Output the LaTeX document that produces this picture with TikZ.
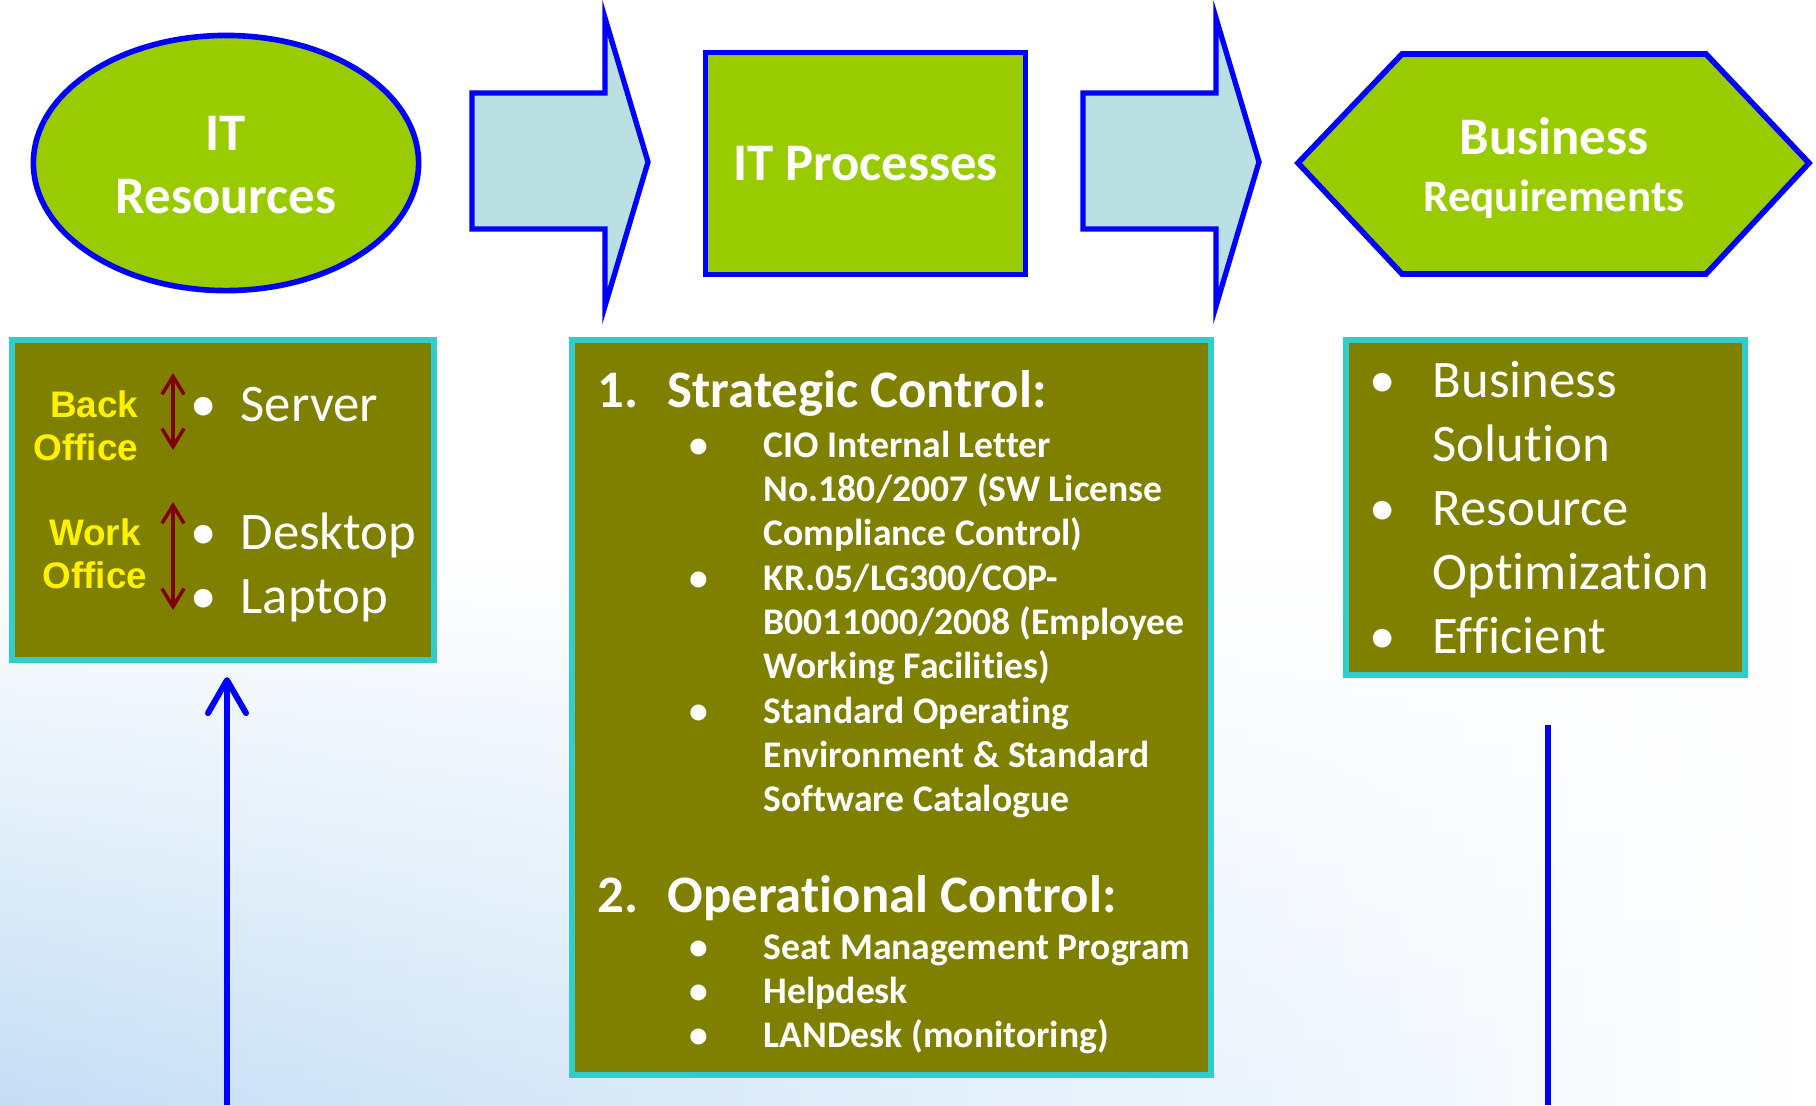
\documentclass[tikz,border=0pt]{standalone}
\usepackage{fontspec}
\setmainfont{Carlito}[Ligatures={NoCommon,NoContextual}, Contextuals=NoAlternate]
\newfontfamily\arialfont{Liberation Sans}
\usetikzlibrary{arrows.meta, positioning, shapes.geometric, fadings}
\definecolor{itgreen}{RGB}{153,204,0}
\definecolor{itolive}{RGB}{128,128,0}
\definecolor{itcyan}{RGB}{51,204,204}
\definecolor{itblue}{RGB}{0,0,255}
\definecolor{arrowfill}{RGB}{187,224,227}
\definecolor{darkred}{RGB}{128,0,0}
\definecolor{bgblue}{RGB}{196,222,245}
\newcommand{\hangbul}[1]{\llap{\makebox[#1]{\textbullet}}}
\newcommand{\listlines}[2][l]{\begin{tabular}[t]{@{}#1@{}}#2\end{tabular}}
\tikzfading[name=fadeup, top color=transparent!100, bottom color=transparent!0]

\begin{document}
\begin{tikzpicture}[x=0.01cm, y=-0.01cm,
    head_shape/.style={draw=itblue, line width=1.6pt, fill=itgreen, inner sep=0pt},
    head_text/.style={text=white, inner sep=0pt, anchor=base},
    block_arrow/.style={draw=itblue, line width=1.5pt, fill=arrowfill},
    list_box/.style={draw=itcyan, line width=1.7pt, fill=itolive, inner sep=0pt},
    list_big/.style={text=white, font=\fontsize{15}{18.2}\selectfont, anchor=base west, inner sep=0pt},
    list_head/.style={text=white, font=\fontsize{15}{18}\selectfont\bfseries, anchor=base west, inner sep=0pt},
    list_small/.style={text=white, font=\fontsize{10.7}{12.63}\selectfont\bfseries, anchor=base west, inner sep=0pt},
    office/.style={text=yellow, font=\arialfont\fontsize{10.5}{12.5}\selectfont\bfseries, inner sep=0pt},
    office_arrow/.style={{Straight Barb[length=0.18cm,width=0.22cm]}-{Straight Barb[length=0.18cm,width=0.22cm]}, darkred, line width=1pt},
    flow_line/.style={itblue, line width=1.7pt}
]
    \useasboundingbox (0,0) rectangle (1816,1105);

    % faded background
    \fill[white] (0,0) rectangle (1816,1105);
    \shade[left color=bgblue, right color=white, path fading=fadeup] (0,560) rectangle (1816,1105);

    % Top row: resources -> processes -> requirements
    \node[head_shape, ellipse, minimum width=3.85cm, minimum height=2.55cm] (itres) at (226,163) {};
    \node[head_text, font=\fontsize{15}{18}\selectfont\bfseries] (itres_t) at (226,150) {\listlines[c]{IT\\Resources}};
    \node[head_shape, minimum width=3.2cm, minimum height=2.22cm, text=white, font=\fontsize{15}{18}\selectfont\bfseries] (itproc) at (865.5,163.5) {IT Processes};
    \draw[head_shape] (1298,163) -- (1402,54) -- (1706,54) -- (1809,163) -- (1706,274) -- (1402,274) -- cycle;
    \node[head_text, font=\fontsize{15}{18}\selectfont\bfseries] (busreq) at (1554,154) {Business};
    \node[head_text, font=\fontsize{12.8}{15}\selectfont\bfseries] (busreq_b) at (1554,211) {Requirements};

    % block arrows between the shapes
    \foreach \ax in {0,611} {
        \draw[block_arrow] (472+\ax,93) -- (605+\ax,93) -- (605+\ax,18) -- (648+\ax,162) -- (605+\ax,306) -- (605+\ax,229) -- (472+\ax,229) -- cycle;
    }

    % IT resources list
    \node[list_box, minimum width=4.22cm, minimum height=3.2cm] (resbox) at (223,500) {};
    \node[office, anchor=base east] (backoff) at (139,417) {\listlines[r]{Back\\Office}};
    \node[office, anchor=base] (workoff) at (95,545) {\listlines[c]{Work\\Office}};
    \coordinate (back_top) at (173,373);
    \coordinate (back_bot) at (173,450);
    \coordinate (work_top) at (173,502);
    \coordinate (work_bot) at (173,610);
    \draw[office_arrow] (back_top) -- (back_bot);
    \draw[office_arrow] (work_top) -- (work_bot);
    \node[list_big] (server) at (240,421) {\hangbul{0.74cm}Server};
    \node[list_big] (devices) at (240,549) {\listlines{\hangbul{0.74cm}Desktop\\\hangbul{0.74cm}Laptop}};

    % IT processes list
    \node[list_box, minimum width=6.39cm, minimum height=7.35cm] (procbox) at (891.5,707.5) {};
    \node[list_head] (strat) at (597,407) {1.};
    \node[list_head] (strat_t) at (667,407) {Strategic Control:};
    \node[list_small] (cio) at (763,457) {\listlines{\hangbul{1.3cm}CIO Internal Letter\\No.180/2007 (SW License\\Compliance Control)}};
    \node[list_small] (kr) at (763,590) {\listlines{\hangbul{1.3cm}KR.05/LG300/COP-\\B0011000/2008 (Employee\\Working Facilities)}};
    \node[list_small] (soe) at (763,723) {\listlines{\hangbul{1.3cm}Standard Operating\\Environment \& Standard\\Software Catalogue}};
    \node[list_head] (oper) at (597,912) {2.};
    \node[list_head] (oper_t) at (667,912) {Operational Control:};
    \node[list_small] (seat) at (763,959) {\listlines{\hangbul{1.3cm}Seat Management Program\\\hangbul{1.3cm}Helpdesk\\\hangbul{1.3cm}LANDesk (monitoring)}};

    % business requirements list
    \node[list_box, minimum width=3.99cm, minimum height=3.35cm] (reqbox) at (1545.5,507.5) {};
    \node[list_big] (reqlist) at (1432,397) {\listlines{\hangbul{1.0cm}Business\\Solution\\\hangbul{1.0cm}Resource\\Optimization\\\hangbul{1.0cm}Efficient}};

    % feedback lines
    \coordinate (resfoot) at (227,1105);
    \draw[flow_line, -{Straight Barb[round, length=0.33cm, width=0.38cm]}] (resfoot) -- ([shift={(4,14)}]resbox.south);
    \coordinate (reqtail) at (1548,725);
    \coordinate (reqfoot) at (1548,1105);
    \draw[flow_line] (reqtail) -- (reqfoot);

\end{tikzpicture}
\end{document}
